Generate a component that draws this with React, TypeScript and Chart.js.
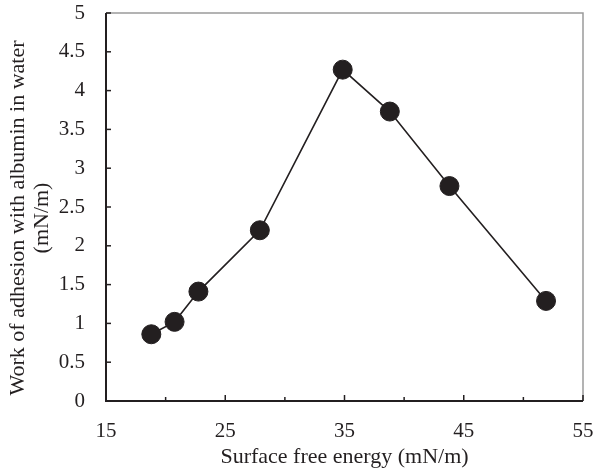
import React, { useEffect, useRef } from "react";
import { Chart, registerables } from "chart.js";

Chart.register(...registerables);

const surfaceEnergy = [18.8, 20.75, 22.75, 27.9, 34.85, 38.8, 43.8, 51.9];
const workOfAdhesion = [0.86, 1.02, 1.41, 2.2, 4.27, 3.73, 2.77, 1.29];
const xTickLabels = [15, 25, 35, 45, 55];
const xTitle = "Surface free energy (mN/m)";
const yTitle = ["Work of adhesion with albumin in water", "(mN/m)"];

const INK = "#231f20";
const FONT = "'Liberation Serif', 'Times New Roman', serif";

const framePlugin = {
  id: "frameAxes",
  afterDatasetsDraw(chart: any) {
    const ctx = chart.ctx;
    const area = chart.chartArea;
    const left = area.left;
    const right = area.right;
    const top = area.top;
    const bottom = area.bottom;
    ctx.save();
    ctx.strokeStyle = "#9a9a9a";
    ctx.lineWidth = 1.5;
    ctx.beginPath();
    ctx.moveTo(left, top);
    ctx.lineTo(right, top);
    ctx.lineTo(right, bottom);
    ctx.stroke();
    ctx.strokeStyle = INK;
    ctx.lineWidth = 2;
    ctx.beginPath();
    ctx.moveTo(left, top);
    ctx.lineTo(left, bottom);
    ctx.lineTo(right, bottom);
    ctx.stroke();
    ctx.lineWidth = 1.5;
    const xs = chart.scales.x;
    for (const t of xs.ticks) {
      const px = xs.getPixelForValue(t.value);
      const major = xTickLabels.indexOf(Number(t.value)) >= 0;
      ctx.beginPath();
      ctx.moveTo(px, bottom);
      ctx.lineTo(px, bottom - (major ? 6 : 4));
      ctx.stroke();
    }
    const ys = chart.scales.y;
    for (const t of ys.ticks) {
      const py = ys.getPixelForValue(t.value);
      ctx.beginPath();
      ctx.moveTo(left, py);
      ctx.lineTo(left + 5, py);
      ctx.stroke();
    }
    // y-axis title (two lines, rotated)
    ctx.fillStyle = INK;
    ctx.font = "22px " + FONT;
    ctx.textAlign = "center";
    ctx.textBaseline = "middle";
    const cy = 218;
    const xs2 = [18, 42];
    yTitle.forEach((line, i) => {
      ctx.save();
      ctx.translate(xs2[i], cy);
      ctx.rotate(-Math.PI / 2);
      ctx.fillText(line, 0, 0);
      ctx.restore();
    });
    ctx.restore();
  },
};

export default function App() {
  const ref = useRef<HTMLCanvasElement>(null);
  useEffect(() => {
    if (!ref.current) return;
    const chart = new Chart(ref.current, {
      type: "scatter",
      data: {
        datasets: [
          {
            data: surfaceEnergy.map((x, i) => ({ x, y: workOfAdhesion[i] })),
            showLine: true,
            borderColor: INK,
            borderWidth: 1.6,
            backgroundColor: INK,
            pointBackgroundColor: INK,
            pointBorderColor: INK,
            pointBorderWidth: 1,
            pointRadius: 9.5,
            pointHoverRadius: 9.5,
          },
        ],
      },
      options: {
        responsive: false,
        animation: false,
        layout: { padding: { top: 13, right: 12, left: 0, bottom: 0 } },
        plugins: { legend: { display: false }, tooltip: { enabled: false } },
        scales: {
          x: {
            type: "linear",
            min: 15,
            max: 55,
            grid: { display: false },
            border: { display: false },
            afterFit: (s: any) => {
              s.height = 69;
              s.paddingLeft = 0;
              s.paddingRight = 0;
            },
            ticks: {
              stepSize: 5,
              autoSkip: false,
              maxRotation: 0,
              padding: 10,
              color: INK,
              font: { family: FONT, size: 21 },
              callback: (v: any) => (xTickLabels.indexOf(Number(v)) >= 0 ? String(v) : ""),
            },
            title: {
              display: true,
              text: xTitle,
              color: INK,
              font: { family: FONT, size: 22 },
              padding: { top: 0, bottom: 0 },
            },
          },
          y: {
            type: "linear",
            min: 0,
            max: 5,
            grid: { display: false },
            border: { display: false },
            afterFit: (s: any) => {
              s.width = 106;
              s.paddingTop = 0;
              s.paddingBottom = 0;
            },
            ticks: {
              stepSize: 0.5,
              padding: 13,
              color: INK,
              font: { family: FONT, size: 21 },
              callback: (v: any) => String(v),
            },
            title: { display: false },
          },
        },
      },
      plugins: [framePlugin],
    });
    return () => chart.destroy();
  }, []);
  return (
    <div style={{ position: "fixed", left: 0, top: 0, width: 595, height: 470, background: "#fff" }}>
      <canvas ref={ref} width={595} height={470} />
    </div>
  );
}
